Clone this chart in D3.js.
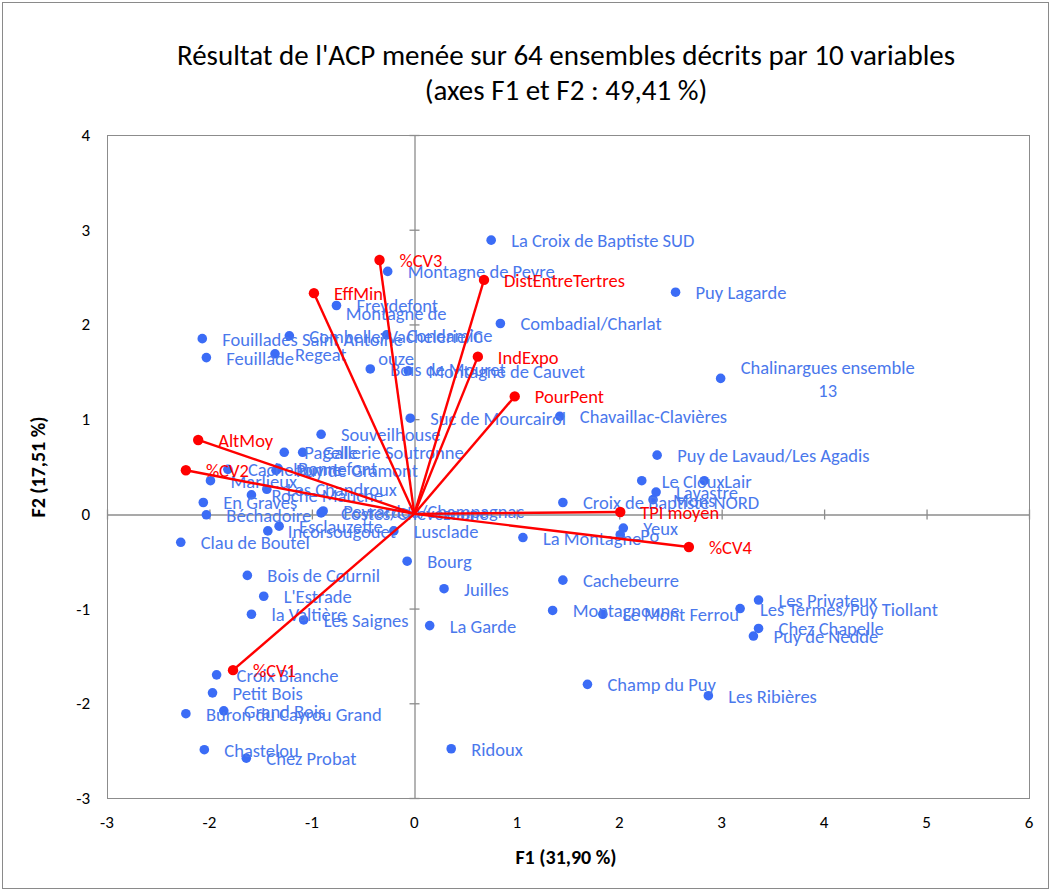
<!DOCTYPE html>
<html>
<head>
<meta charset="utf-8">
<script src="https://cdn.jsdelivr.net/npm/d3@7"></script>
<style>
  html, body { margin: 0; padding: 0; background: #fff; }
  svg { display: block; font-family: Carlito, Calibri, Lato, "Open Sans", sans-serif; }
</style>
</head>
<body>
<svg id="chart" width="1052" height="892"></svg>
<script>
// Individuals (ensembles) projected on F1 / F2
const names = [
  "La Croix de Baptiste SUD", "Montagne de Peyre", "Puy Lagarde", "Freydefont",
  "Combadial/Charlat", "Fouillades Saint Antoine", "Feuillade",
  "Montagne de Combelle/Vachelerie/Couze",
  "Regeat", "Condamine", "Bois de Mouret", "Montagne de Cauvet",
  "Chalinargues ensemble 13", "Suc de Mourcairol", "Chavaillac-Clavières",
  "Souveilhouse", "Pagelle", "Gallerie Soutronne", "Cachebonne", "Bonnefont",
  "Puy de Gramont", "Marlieux", "Les Chandroux", "Roche Mauche", "En Graves",
  "Béchadoire", "Peyrardou/Champagnac", "Costes/Chevezoune", "Esclauzette",
  "Incorsougouet", "Lusclade", "Clau de Boutel", "Bourg", "Puy de Lavaud/Les Agadis",
  "Le Cloux", "Lair", "Lavastre", "Mons", "Croix de Baptiste NORD", "Yeux", "Po",
  "La Montagne", "Cachebeurre", "Juilles", "Bois de Cournil", "L'Estrade",
  "la Valtière", "Les Saignes", "La Garde", "Montagnoune", "Le Mont Ferrou",
  "Les Privateux", "Les Termes/Puy Tiollant", "Chez Chapelle", "Puy de Nedde",
  "Croix Blanche", "Petit Bois", "Grand Bois", "Buron du Cayrou Grand",
  "Champ du Puy", "Les Ribières", "Chastelou", "Chez Probat", "Ridoux"
];
const f1 = [
  0.75, -0.26, 2.55, -0.76,
  0.84, -2.07, -2.03,
  -1.22,
  -1.36, -0.27, -0.43, -0.06,
  2.99, -0.04, 1.42,
  -0.91, -1.27, -1.09, -1.82, -1.33,
  -1.35, -1.99, -1.44, -1.59, -2.06,
  -2.03, -0.89, -0.91, -1.32,
  -1.43, -0.20, -2.28, -0.07, 2.37,
  2.22, 2.83, 2.36, 2.33, 1.45, 2.04, 2.01,
  1.06, 1.45, 0.29, -1.63, -1.47,
  -1.59, -1.08, 0.15, 1.35, 1.84,
  3.36, 3.18, 3.36, 3.31,
  -1.93, -1.97, -1.86, -2.23,
  1.69, 2.87, -2.05, -1.64, 0.36
];
const f2 = [
  2.89, 2.56, 2.34, 2.20,
  2.01, 1.85, 1.65,
  1.88,
  1.69, 1.89, 1.53, 1.51,
  1.43, 1.01, 1.03,
  0.84, 0.65, 0.65, 0.47, 0.48,
  0.46, 0.35, 0.26, 0.20, 0.12,
  -0.01, 0.03, 0.01, -0.13,
  -0.18, -0.18, -0.30, -0.50, 0.62,
  0.35, 0.35, 0.23, 0.15, 0.12, -0.15, -0.22,
  -0.25, -0.70, -0.79, -0.65, -0.87,
  -1.06, -1.12, -1.18, -1.02, -1.06,
  -0.91, -1.00, -1.21, -1.29,
  -1.70, -1.89, -2.08, -2.11,
  -1.80, -1.92, -2.49, -2.58, -2.48
];

// Variable vectors (correlation circle scaled onto the same plane)
const varNames = ["%CV3", "EffMin", "DistEntreTertres", "IndExpo", "PourPent",
                  "AltMoy", "%CV2", "%CV1", "TPI moyen", "%CV4"];
const varF1 = [-0.34, -0.98, 0.68, 0.62, 0.98, -2.11, -2.23, -1.77, 2.01, 2.68];
const varF2 = [2.68, 2.33, 2.47, 1.66, 1.24, 0.78, 0.46, -1.65, 0.02, -0.35];

// Axis ticks
const xTicks = [-3, -2, -1, 0, 1, 2, 3, 4, 5, 6];
const yTicks = [-3, -2, -1, 0, 1, 2, 3, 4];

// Long labels wrapped onto several centred lines (long words are cut mid-word)
const wrapped = {
  "Chalinargues ensemble 13": ["Chalinargues ensemble", "13"],
  "Montagne de Combelle/Vachelerie/Couze": ["Montagne de", "Combelle/Vachelerie/C", "ouze"]
};

const titleLines = ["Résultat de l'ACP menée sur 64 ensembles décrits par 10 variables",
                    "(axes F1 et F2 : 49,41 %)"];
const xTitle = "F1 (31,90 %)";
const yTitle = "F2 (17,51 %)";

const svg = d3.select("#chart");
const plot = { left: 107, right: 1029, top: 135, bottom: 798 };

const x = d3.scaleLinear().domain([-3, 6]).range([plot.left, plot.right]);
const y = d3.scaleLinear().domain([-3, 4]).range([plot.bottom, plot.top]);

const blueDot = "#3b6cf6";
const blueText = "#4a78ec";
const red = "#ff0000";
const grey = "#8c8c8c";
const labelSize = 18.5;
const lineGap = 22.5;

// Outer frame
svg.append("rect").attr("x", 2.5).attr("y", 2.5).attr("width", 1046).attr("height", 886)
  .attr("fill", "#fff").attr("stroke", "#8a8a8a").attr("stroke-width", 1);

// Title
svg.append("g").selectAll("text").data(titleLines).join("text")
  .attr("x", 566).attr("y", (d, i) => 65 + i * 35)
  .attr("text-anchor", "middle").attr("font-size", 29).attr("fill", "#000")
  .text(d => d);

// Plot frame
svg.append("rect")
  .attr("x", plot.left + 0.5).attr("y", plot.top + 0.5)
  .attr("width", plot.right - plot.left).attr("height", plot.bottom - plot.top)
  .attr("fill", "none").attr("stroke", grey).attr("stroke-width", 1);

// Zero axes with crossing tick marks
const xAxisG = svg.append("g").attr("transform", `translate(0,${Math.round(y(0)) + 0.5})`);
xAxisG.call(d3.axisBottom(x).tickValues(xTicks).tickSize(0).tickFormat(""));
xAxisG.select(".domain").attr("stroke", grey).attr("stroke-width", 1.3);
xAxisG.selectAll(".tick").append("line").attr("y1", -5).attr("y2", 5).attr("stroke", grey).attr("stroke-width", 1.3);

const yAxisG = svg.append("g").attr("transform", `translate(${Math.round(x(0)) + 0.5},0)`);
yAxisG.call(d3.axisLeft(y).tickValues(yTicks).tickSize(0).tickFormat(""));
yAxisG.select(".domain").attr("stroke", grey).attr("stroke-width", 1.3);
yAxisG.selectAll(".tick").append("line").attr("x1", -5).attr("x2", 5).attr("stroke", grey).attr("stroke-width", 1.3);

// Tick labels along the frame
svg.append("g").selectAll("text").data(xTicks).join("text")
  .attr("x", d => x(d)).attr("y", plot.bottom + 30)
  .attr("text-anchor", "middle").attr("font-size", 17).attr("fill", "#000")
  .text(d => d);
svg.append("g").selectAll("text").data(yTicks).join("text")
  .attr("x", plot.left - 17).attr("y", d => y(d) + 6)
  .attr("text-anchor", "end").attr("font-size", 17).attr("fill", "#000")
  .text(d => d);

// Axis titles
svg.append("text").attr("x", 566).attr("y", 864).attr("text-anchor", "middle")
  .attr("font-size", 20).attr("font-weight", "bold").text(xTitle);
svg.append("text").attr("transform", "translate(45,467) rotate(-90)").attr("text-anchor", "middle")
  .attr("font-size", 20).attr("font-weight", "bold").text(yTitle);

// Individuals
const ind = names.map((n, i) => ({ name: n, f1: f1[i], f2: f2[i] }));
const gInd = svg.append("g");
gInd.selectAll("circle").data(ind).join("circle")
  .attr("cx", d => x(d.f1)).attr("cy", d => y(d.f2)).attr("r", 4.8)
  .attr("fill", blueDot);

// Variable vectors
const vars = varNames.map((n, i) => ({ name: n, f1: varF1[i], f2: varF2[i] }));
const gVar = svg.append("g");
gVar.selectAll("line").data(vars).join("line")
  .attr("x1", x(0)).attr("y1", y(0))
  .attr("x2", d => x(d.f1)).attr("y2", d => y(d.f2))
  .attr("stroke", red).attr("stroke-width", 2.4);
gVar.selectAll("circle").data(vars).join("circle")
  .attr("cx", d => x(d.f1)).attr("cy", d => y(d.f2)).attr("r", 5.2)
  .attr("fill", red);

// Width of one label line, measured with a throw-away text node
const probe = svg.append("text").attr("font-size", labelSize).attr("visibility", "hidden");
function lineWidth(s) { probe.text(s); return probe.node().getComputedTextLength(); }

// Individual labels: placed right of the point; wrapped ones are centred
// as a block whose widest line starts right of the point
const lbl = gInd.selectAll("text").data(ind).join("text")
  .attr("font-size", labelSize).attr("fill", blueText);
lbl.each(function (d) {
  const t = d3.select(this);
  const lines = wrapped[d.name];
  const px = x(d.f1), py = y(d.f2);
  if (lines) {
    const widest = d3.max(lines, lineWidth);
    t.attr("text-anchor", "middle");
    lines.forEach((ln, k) =>
      t.append("tspan")
        .attr("x", px + 20 + widest / 2)
        .attr("y", py + 7 + (k - (lines.length - 1) / 2) * lineGap)
        .text(ln));
  } else {
    t.attr("x", px + 20).attr("y", py + 7).text(d.name);
  }
});
probe.remove();

// Variable labels
gVar.selectAll("text").data(vars).join("text")
  .attr("x", d => x(d.f1) + 20).attr("y", d => y(d.f2) + 7)
  .attr("font-size", labelSize).attr("fill", red)
  .text(d => d.name);
</script>
</body>
</html>
